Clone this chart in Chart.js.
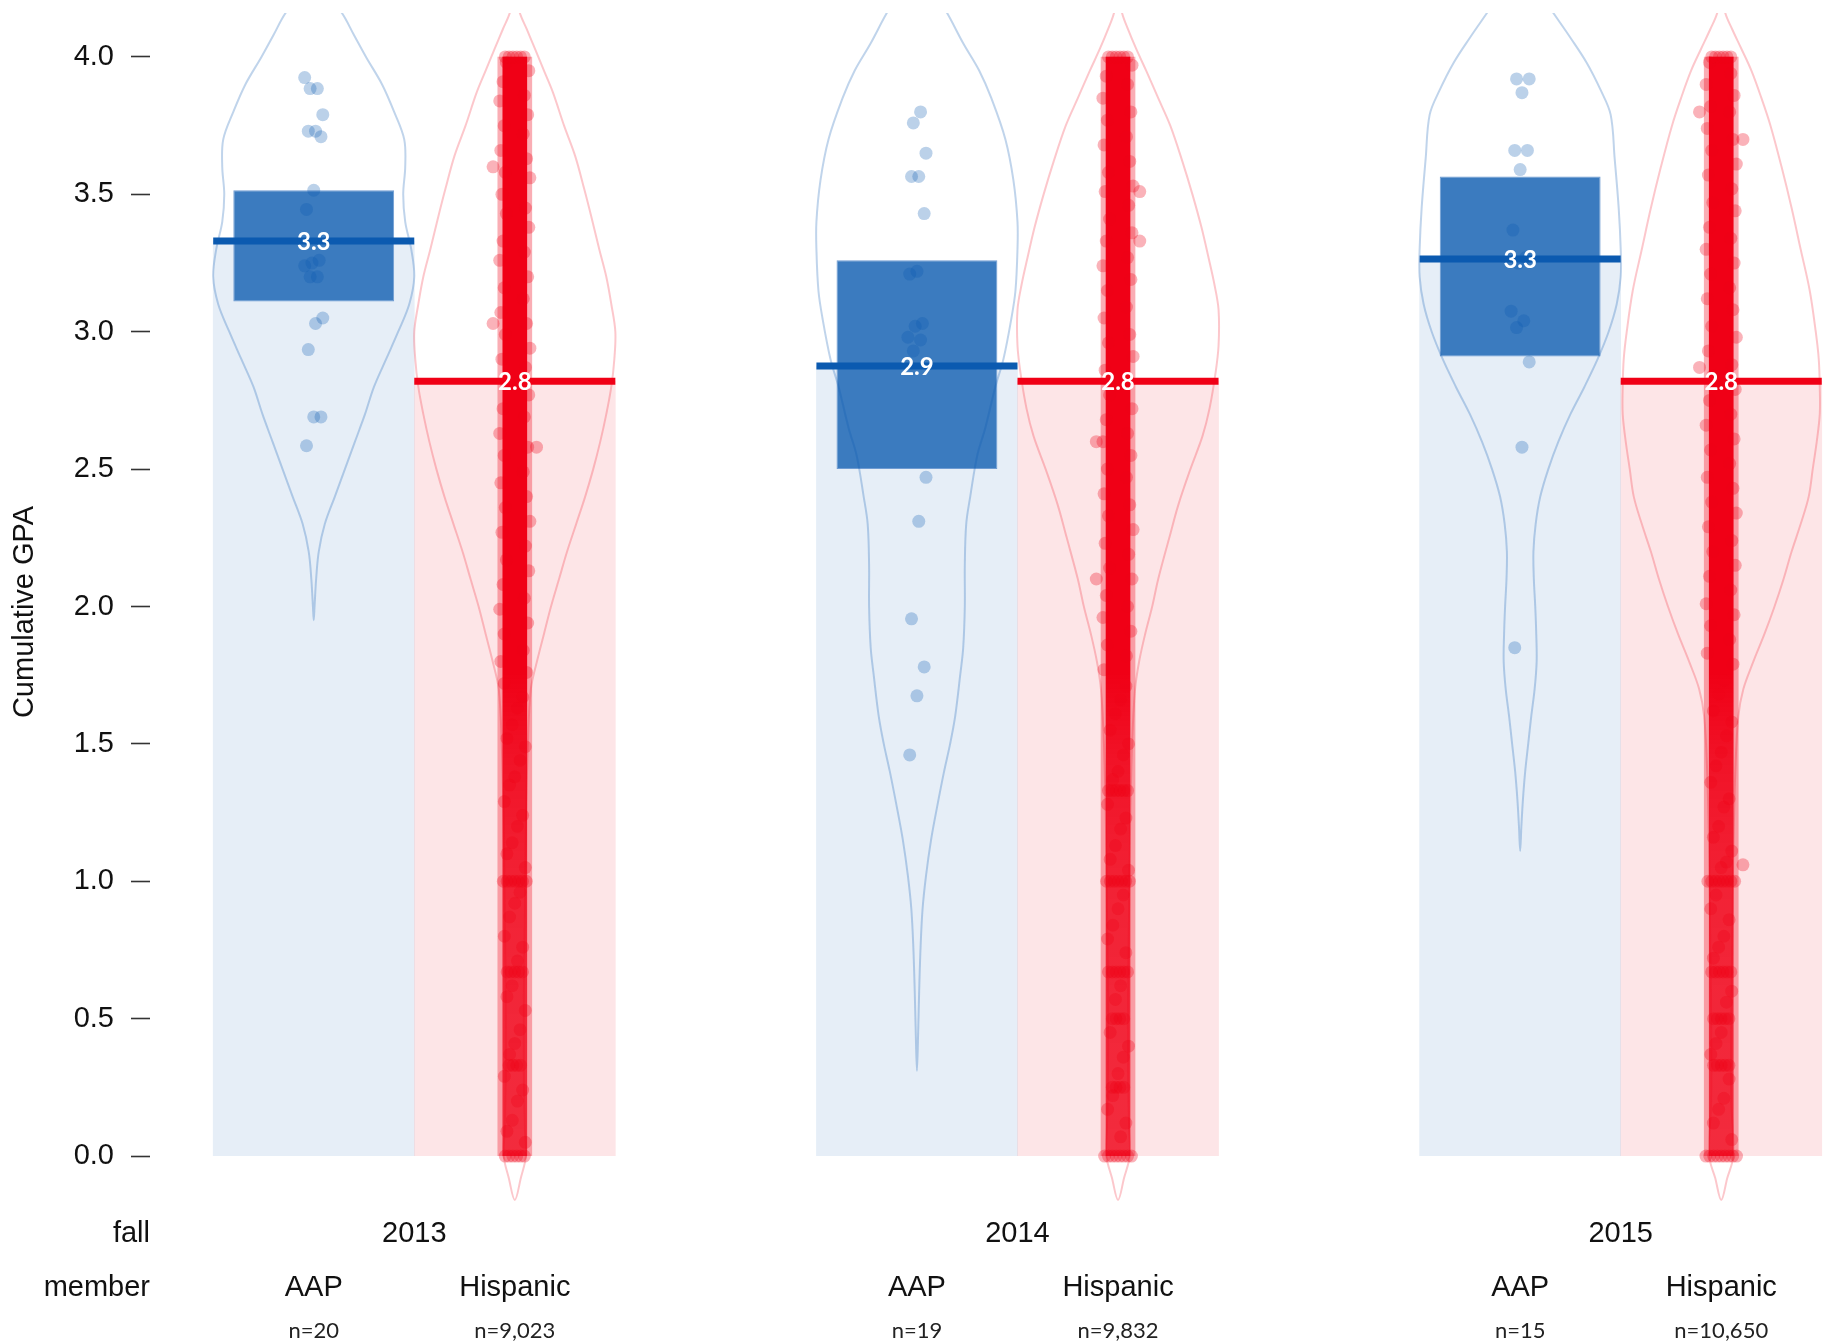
<!DOCTYPE html>
<html>
<head>
<meta charset="utf-8">
<script src="https://cdn.jsdelivr.net/npm/chart.js"></script>
<style>
html,body{margin:0;padding:0;background:#fff;}
#wrap{width:1837px;height:1343px;position:relative;}
</style>
</head>
<body>
<div id="wrap"><canvas id="c" width="1837" height="1343"></canvas></div>
<script>
// ---------------- data ----------------
const years = ['2013', '2014', '2015'];
const members = ['AAP', 'Hispanic'];
const groupTitle = 'fall';
const memberTitle = 'member';
const yTitle = 'Cumulative GPA';
const yTicks = [0, 0.5, 1, 1.5, 2, 2.5, 3, 3.5, 4];

const nAAP = [20, 19, 15];
const nHisp = [9023, 9832, 10650];
const meanAAP = [3.33, 2.875, 3.265];
const meanHisp = [2.82, 2.82, 2.82];
const hdiLowAAP = [3.11, 2.50, 2.91];
const hdiHighAAP = [3.515, 3.26, 3.565];
const hispMin = [0.0, 0.0, 0.0];
const hispMax = [4.0, 4.0, 4.0];

// individual AAP GPAs
const aap2013 = [3.925, 3.885, 3.885, 3.79, 3.73, 3.73, 3.71, 3.515, 3.445, 3.26, 3.25, 3.24, 3.2, 3.2, 3.05, 3.03, 2.935, 2.69, 2.69, 2.585];
const aap2014 = [3.8, 3.76, 3.65, 3.565, 3.565, 3.43, 3.22, 3.21, 3.03, 3.02, 2.98, 2.97, 2.93, 2.47, 2.31, 1.955, 1.78, 1.675, 1.46];
const aap2015 = [3.92, 3.92, 3.87, 3.66, 3.66, 3.59, 3.37, 3.27, 3.25, 3.075, 3.04, 3.015, 2.89, 2.58, 1.85];

// visible Hispanic points at the edge of the dense cloud
const hispEdge2013 = [3.98, 3.95, 3.91, 3.86, 3.84, 3.79, 3.75, 3.72, 3.66, 3.63, 3.58, 3.56, 3.5, 3.45, 3.43, 3.38, 3.33, 3.29, 3.26, 3.2, 3.16, 3.12, 3.07, 3.03, 2.99, 2.94, 2.9, 2.87, 2.81, 2.77, 2.72, 2.69, 2.63, 2.58, 2.55, 2.49, 2.45, 2.4, 2.36, 2.31, 2.27, 2.22, 2.17, 2.13, 2.08, 2.03, 1.99, 1.94, 1.9, 1.84, 1.8, 1.76];
const hispEdge2014 = [3.97, 3.93, 3.9, 3.85, 3.8, 3.77, 3.71, 3.68, 3.62, 3.58, 3.53, 3.51, 3.46, 3.41, 3.36, 3.33, 3.27, 3.24, 3.19, 3.15, 3.09, 3.05, 2.99, 2.96, 2.91, 2.86, 2.82, 2.77, 2.72, 2.68, 2.63, 2.6, 2.55, 2.5, 2.47, 2.41, 2.37, 2.33, 2.28, 2.23, 2.19, 2.14, 2.1, 2.04, 2.0, 1.96, 1.91, 1.86, 1.82, 1.77];
const hispEdge2015 = [3.98, 3.94, 3.9, 3.86, 3.82, 3.8, 3.74, 3.7, 3.66, 3.61, 3.57, 3.52, 3.47, 3.44, 3.38, 3.34, 3.3, 3.25, 3.21, 3.16, 3.12, 3.08, 3.02, 2.98, 2.93, 2.88, 2.84, 2.79, 2.75, 2.7, 2.66, 2.61, 2.57, 2.52, 2.47, 2.43, 2.38, 2.34, 2.29, 2.24, 2.2, 2.15, 2.11, 2.06, 2.01, 1.97, 1.93, 1.88, 1.83, 1.79];
// a few stray Hispanic points further out
const hispFar2013 = [3.03, 2.58, 3.6];
const hispFar2014 = [2.6, 3.51, 2.1, 3.33];
const hispFar2015 = [3.8, 1.06, 2.87, 3.7];
// visible Hispanic points in the sparse lower tail
const hispTail2013 = [1.72, 1.67, 1.63, 1.57, 1.52, 1.49, 1.44, 1.38, 1.35, 1.29, 1.24, 1.2, 1.14, 1.1, 1.05, 0.96, 0.92, 0.87, 0.8, 0.76, 0.71, 0.62, 0.58, 0.53, 0.46, 0.41, 0.37, 0.29, 0.24, 0.2, 0.13, 0.09, 0.05];
const hispTail2014 = [1.71, 1.66, 1.61, 1.55, 1.5, 1.46, 1.4, 1.37, 1.28, 1.23, 1.19, 1.13, 1.08, 1.04, 0.95, 0.9, 0.84, 0.79, 0.74, 0.62, 0.57, 0.45, 0.4, 0.36, 0.3, 0.22, 0.17, 0.12, 0.07];
const hispTail2015 = [1.73, 1.68, 1.62, 1.58, 1.53, 1.47, 1.42, 1.36, 1.3, 1.27, 1.2, 1.16, 1.11, 1.07, 1.05, 0.95, 0.9, 0.86, 0.8, 0.76, 0.72, 0.6, 0.56, 0.45, 0.41, 0.37, 0.28, 0.21, 0.17, 0.12, 0.06];
// tied GPA values forming clumps: [GPA, visible points]
const hispClump2013 = [[4.0, 6], [1.0, 7], [0.67, 5], [0.33, 4], [0.0, 6]];
const hispClump2014 = [[4.0, 6], [1.33, 6], [1.0, 7], [0.67, 6], [0.5, 4], [0.25, 4], [0.0, 8]];
const hispClump2015 = [[4.0, 6], [1.0, 8], [0.67, 6], [0.5, 5], [0.33, 5], [0.0, 9]];

// violin density outlines: [GPA, half width as fraction of a bar]
const vAAP2013 = [[4.24,0.05],[4.16,0.14],[4.08,0.2],[4.0,0.26],[3.9,0.34],[3.8,0.4],[3.7,0.45],[3.6,0.455],[3.5,0.445],[3.4,0.455],[3.3,0.485],[3.2,0.5],[3.1,0.475],[3.0,0.42],[2.9,0.36],[2.8,0.3],[2.7,0.255],[2.6,0.205],[2.5,0.155],[2.4,0.105],[2.3,0.055],[2.2,0.025],[2.1,0.012],[2.0,0.004],[1.95,0]];
const vAAP2014 = [[4.24,0.08],[4.16,0.15],[4.05,0.23],[3.95,0.31],[3.85,0.37],[3.7,0.44],[3.55,0.48],[3.4,0.5],[3.3,0.5],[3.15,0.49],[3.05,0.47],[2.9,0.43],[2.8,0.39],[2.65,0.34],[2.55,0.3],[2.4,0.265],[2.3,0.245],[2.15,0.238],[2.0,0.238],[1.85,0.23],[1.75,0.215],[1.6,0.19],[1.5,0.165],[1.4,0.135],[1.27,0.1],[1.15,0.07],[1.02,0.045],[0.9,0.028],[0.76,0.018],[0.6,0.011],[0.45,0.006],[0.31,0]];
const vAAP2015 = [[4.24,0.09],[4.16,0.165],[4.07,0.25],[3.98,0.33],[3.88,0.4],[3.79,0.45],[3.63,0.47],[3.45,0.49],[3.3,0.5],[3.2,0.5],[3.1,0.48],[3.0,0.44],[2.9,0.385],[2.8,0.32],[2.7,0.25],[2.6,0.19],[2.5,0.14],[2.4,0.1],[2.3,0.077],[2.2,0.066],[2.1,0.068],[2.0,0.075],[1.9,0.08],[1.8,0.082],[1.7,0.072],[1.6,0.055],[1.5,0.04],[1.4,0.025],[1.3,0.014],[1.2,0.006],[1.11,0]];
const vHisp2013 = [[4.24,0],[4.16,0.025],[4.1,0.06],[4.03,0.1],[3.95,0.145],[3.87,0.19],[3.75,0.245],[3.64,0.3],[3.52,0.345],[3.42,0.38],[3.3,0.42],[3.2,0.455],[3.1,0.48],[3.0,0.5],[2.9,0.495],[2.8,0.48],[2.7,0.455],[2.6,0.425],[2.5,0.39],[2.4,0.35],[2.3,0.305],[2.2,0.26],[2.1,0.22],[2.0,0.18],[1.9,0.145],[1.8,0.11],[1.7,0.08],[1.5,0.065],[1.2,0.055],[0.9,0.05],[0.6,0.045],[0.3,0.045],[0.1,0.05],[0.0,0.055],[-0.08,0.03],[-0.16,0]];
const vHisp2014 = [[4.24,0],[4.16,0.02],[4.1,0.05],[4.03,0.09],[3.95,0.14],[3.85,0.2],[3.75,0.26],[3.62,0.32],[3.5,0.37],[3.38,0.415],[3.27,0.45],[3.17,0.48],[3.08,0.5],[2.95,0.5],[2.85,0.485],[2.72,0.455],[2.62,0.42],[2.5,0.36],[2.37,0.3],[2.25,0.255],[2.1,0.2],[2.0,0.17],[1.9,0.135],[1.8,0.105],[1.7,0.085],[1.5,0.07],[1.2,0.06],[0.9,0.055],[0.6,0.05],[0.3,0.05],[0.1,0.055],[0.0,0.058],[-0.08,0.03],[-0.16,0]];
const vHisp2015 = [[4.24,0],[4.16,0.02],[4.1,0.055],[4.03,0.1],[3.95,0.15],[3.85,0.2],[3.75,0.245],[3.6,0.3],[3.45,0.35],[3.3,0.395],[3.15,0.44],[3.0,0.47],[2.9,0.485],[2.8,0.49],[2.7,0.49],[2.6,0.475],[2.5,0.455],[2.4,0.435],[2.3,0.395],[2.2,0.35],[2.1,0.31],[2.0,0.265],[1.9,0.215],[1.8,0.16],[1.7,0.11],[1.6,0.085],[1.4,0.07],[1.1,0.06],[0.8,0.055],[0.5,0.05],[0.2,0.05],[0.0,0.06],[-0.08,0.03],[-0.16,0]];

// ---------------- styles ----------------
const BLUE = 'rgb(11,90,176)';
const RED = 'rgb(240,0,22)';
const AAP_BAR = 'rgba(11,90,176,0.1)';
const HISP_BAR = 'rgba(240,0,24,0.1)';
const AAP_HDI = 'rgb(59,123,191)';
const AAP_VIOLIN = 'rgba(11,90,176,0.26)';
const HISP_VIOLIN = 'rgba(240,0,24,0.22)';
const AAP_POINT = 'rgba(11,90,176,0.28)';
const HISP_POINT = 'rgba(240,0,22,0.3)';
const AXIS_FONT = "'Liberation Sans', Arial, sans-serif";

// ---------------- layout helpers ----------------
const slotAAP = g => 1 + 3 * g;
const slotHisp = g => 2 + 3 * g;
const aapPoints = [aap2013, aap2014, aap2015];
const hispEdges = [hispEdge2013, hispEdge2014, hispEdge2015];
const hispFars = [hispFar2013, hispFar2014, hispFar2015];
const hispTails = [hispTail2013, hispTail2014, hispTail2015];
const hispClumps = [hispClump2013, hispClump2014, hispClump2015];
const violinsAAP = [vAAP2013, vAAP2014, vAAP2015];
const violinsHisp = [vHisp2013, vHisp2014, vHisp2015];

const jitterAAP = i => (((i * 7) % 11) - 5) * 0.009;
const jitterEdge = i => (i % 2 ? 1 : -1) * (0.042 + ((i * 5) % 7) * 0.0055);
const jitterFar = i => (i % 2 ? 1 : -1) * 0.108;
const jitterTail = i => (((i * 7) % 9) - 4) * 0.013;

function violinPath(center, shape) {
  const left = shape.map(([v, w]) => ({x: center - w, y: v}));
  const right = shape.slice().reverse().map(([v, w]) => ({x: center + w, y: v}));
  return left.concat(right.slice(1));
}

const datasets = [];
// mean bars
datasets.push({type: 'bar', label: 'AAP mean', data: meanAAP.map((m, g) => ({x: slotAAP(g), y: [0, m]})),
  backgroundColor: AAP_BAR, borderWidth: 0, grouped: false, barPercentage: 1, categoryPercentage: 1, order: 20});
datasets.push({type: 'bar', label: 'Hispanic mean', data: meanHisp.map((m, g) => ({x: slotHisp(g), y: [0, m]})),
  backgroundColor: HISP_BAR, borderWidth: 0, grouped: false, barPercentage: 1, categoryPercentage: 1, order: 20});
// HDI boxes
datasets.push({type: 'bar', label: 'AAP HDI', data: hdiLowAAP.map((lo, g) => ({x: slotAAP(g), y: [lo, hdiHighAAP[g]]})),
  backgroundColor: AAP_HDI, borderColor: 'rgba(110,155,210,1)', borderWidth: 1, borderSkipped: false,
  grouped: false, barPercentage: 0.8, categoryPercentage: 1, order: 18});
// violins
violinsAAP.forEach((shape, g) => datasets.push({type: 'line', label: 'AAP density ' + years[g],
  data: violinPath(slotAAP(g), shape), borderColor: AAP_VIOLIN, borderWidth: 2, pointRadius: 0,
  fill: false, tension: 0.35, clip: 0, order: 16}));
violinsHisp.forEach((shape, g) => datasets.push({type: 'line', label: 'Hispanic density ' + years[g],
  data: violinPath(slotHisp(g), shape), borderColor: HISP_VIOLIN, borderWidth: 2, pointRadius: 0,
  fill: false, tension: 0.35, clip: 0, order: 16}));
// dense Hispanic point cloud extent (outer spread + solid core)
function hispCoreFill(chart) {
  const y = chart.scales.y;
  if (!chart.chartArea || !y) return RED;
  const g = chart.ctx.createLinearGradient(0, y.getPixelForValue(4), 0, y.getPixelForValue(0));
  g.addColorStop(0, RED);
  g.addColorStop(0.56, RED);
  g.addColorStop(0.64, 'rgba(240,0,22,0.88)');
  g.addColorStop(0.76, 'rgba(240,0,22,0.78)');
  g.addColorStop(1, 'rgba(240,0,22,0.72)');
  return g;
}
datasets.push({type: 'bar', label: 'Hispanic points (spread)', data: hispMin.map((lo, g) => ({x: slotHisp(g), y: [lo, hispMax[g]]})),
  backgroundColor: 'rgba(240,0,22,0.32)', borderWidth: 0, grouped: false, barThickness: 34, order: 15});
datasets.push({type: 'bar', label: 'Hispanic points (dense)', data: hispMin.map((lo, g) => ({x: slotHisp(g), y: [lo, hispMax[g]]})),
  backgroundColor: c => hispCoreFill(c.chart), borderWidth: 0, grouped: false, barThickness: 24, order: 14});
// points
const aapPts = [];
aapPoints.forEach((arr, g) => arr.forEach((v, i) => aapPts.push({x: slotAAP(g) + jitterAAP(i + g), y: v})));
const hispPts = [];
hispEdges.forEach((arr, g) => arr.forEach((v, i) => hispPts.push({x: slotHisp(g) + jitterEdge(i + g), y: v})));
hispFars.forEach((arr, g) => arr.forEach((v, i) => hispPts.push({x: slotHisp(g) + jitterFar(i), y: v})));
hispTails.forEach((arr, g) => arr.forEach((v, i) => hispPts.push({x: slotHisp(g) + jitterTail(i + g), y: v})));
hispClumps.forEach((arr, g) => arr.forEach(([v, n]) => {
  for (let k = 0; k < n; k++) hispPts.push({x: slotHisp(g) + (k - (n - 1) / 2) * 0.019, y: v});
}));
datasets.push({type: 'scatter', label: 'AAP points', data: aapPts, backgroundColor: AAP_POINT,
  borderWidth: 0, pointRadius: 6.5, order: 12});
datasets.push({type: 'scatter', label: 'Hispanic points', data: hispPts, backgroundColor: HISP_POINT,
  borderWidth: 0, pointRadius: 6.5, order: 12});
// mean lines
meanAAP.forEach((m, g) => datasets.push({type: 'line', label: 'AAP mean line ' + years[g],
  data: [{x: slotAAP(g) - 0.5, y: m}, {x: slotAAP(g) + 0.5, y: m}], borderColor: BLUE, borderWidth: 7,
  borderCapStyle: 'butt', pointRadius: 0, tension: 0, order: 10}));
meanHisp.forEach((m, g) => datasets.push({type: 'line', label: 'Hispanic mean line ' + years[g],
  data: [{x: slotHisp(g) - 0.5, y: m}, {x: slotHisp(g) + 0.5, y: m}], borderColor: RED, borderWidth: 7,
  borderCapStyle: 'butt', pointRadius: 0, tension: 0, order: 10}));

const textPlugin = {
  id: 'pirateText',
  afterDatasetsDraw(chart) {
    const {ctx, chartArea} = chart;
    const x = chart.scales.x, y = chart.scales.y;
    ctx.save();
    ctx.textAlign = 'center';
    ctx.textBaseline = 'middle';
    ctx.fillStyle = '#ffffff';
    ctx.font = 'bold 24px Lato, "Open Sans", sans-serif';
    meanAAP.forEach((m, g) => ctx.fillText(m.toFixed(1), x.getPixelForValue(slotAAP(g)), y.getPixelForValue(m) + 1));
    meanHisp.forEach((m, g) => ctx.fillText(m.toFixed(1), x.getPixelForValue(slotHisp(g)), y.getPixelForValue(m) + 1));

    const b = chartArea.bottom;
    ctx.fillStyle = '#111';
    ctx.font = '29px ' + AXIS_FONT;
    ctx.textAlign = 'right';
    ctx.fillText(groupTitle, chartArea.left, b + 23);
    ctx.fillText(memberTitle, chartArea.left, b + 77);
    ctx.textAlign = 'center';
    years.forEach((yr, g) => {
      ctx.fillText(yr, x.getPixelForValue((slotAAP(g) + slotHisp(g)) / 2), b + 23);
      ctx.fillText(members[0], x.getPixelForValue(slotAAP(g)), b + 77);
      ctx.fillText(members[1], x.getPixelForValue(slotHisp(g)), b + 77);
    });
    ctx.font = '22px Lato, "Open Sans", sans-serif';
    ctx.fillStyle = '#222';
    years.forEach((yr, g) => {
      ctx.fillText('n=' + nAAP[g].toLocaleString('en-US'), x.getPixelForValue(slotAAP(g)), b + 120);
      ctx.fillText('n=' + nHisp[g].toLocaleString('en-US'), x.getPixelForValue(slotHisp(g)), b + 120);
    });
    ctx.restore();
  }
};

new Chart(document.getElementById('c'), {
  type: 'scatter',
  data: {datasets},
  plugins: [textPlugin],
  options: {
    responsive: false,
    animation: false,
    events: [],
    devicePixelRatio: 1,
    layout: {padding: {left: 0, right: 7, top: 13, bottom: 132}},
    plugins: {legend: {display: false}, tooltip: {enabled: false}},
    scales: {
      x: {
        type: 'linear', min: 0.1857, max: 8.5409, offset: false, display: false,
        afterBuildTicks: s => { s.ticks = [1, 2, 3, 4, 5, 6, 7, 8].map(v => ({value: v})); }
      },
      y: {
        type: 'linear', min: -0.2, max: 4.16,
        afterBuildTicks: s => { s.ticks = yTicks.map(v => ({value: v})); },
        ticks: {callback: v => Number(v).toFixed(1), font: {family: AXIS_FONT, size: 29}, color: '#111', padding: 17},
        grid: {drawOnChartArea: false, drawTicks: true, tickLength: 19, tickColor: '#333', tickWidth: 1.6},
        border: {display: false},
        title: {display: true, text: yTitle, font: {family: AXIS_FONT, size: 29}, color: '#111', padding: {top: 8, bottom: 0}},
        afterFit: s => { s.width = 150; s.paddingTop = 0; s.paddingBottom = 0; }
      }
    }
  }
});
</script>
</body>
</html>
